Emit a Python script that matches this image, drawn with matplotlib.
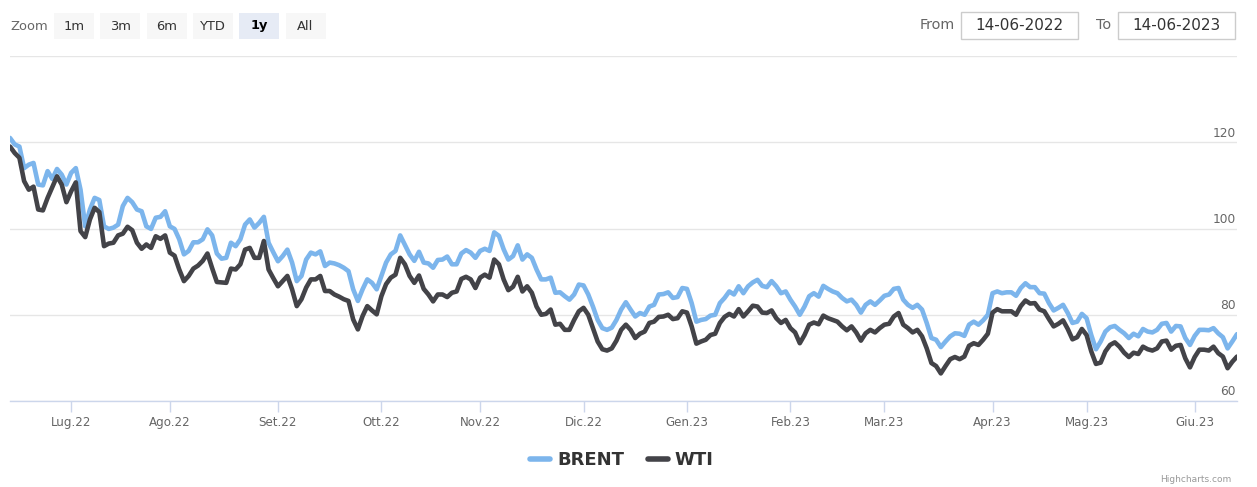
import matplotlib
matplotlib.use("Agg")
import matplotlib.pyplot as plt
from matplotlib.patches import Rectangle
from matplotlib.transforms import blended_transform_factory
import numpy as np
import pandas as pd

plt.rcParams["font.family"] = ["DejaVu Sans"]

W, H = 1257, 487

# data (one value per trading day, 14-06-2022 .. 14-06-2023)
start_date = "2022-06-14"
end_date = "2023-06-14"

brent = [
    121, 119.5, 119, 114, 114.8, 115.2, 110.2, 110, 113.3, 111.5,
    113.8, 112.5, 110.2, 112.9, 114, 109, 100.5, 104.4, 107.1, 106.6,
    100.5, 99.9, 100.2, 100.9, 105.2, 107.1, 106.1, 104.4, 104, 100.5,
    99.9, 102.5, 102.7, 104, 100.5, 99.9, 97.5, 94, 94.8, 96.8,
    96.8, 97.5, 99.8, 98.4, 94.2, 93, 93.2, 96.7, 95.9, 97.5,
    100.9, 102.1, 100.2, 101.3, 102.7, 96.7, 94.5, 92.4, 93.6, 95.1,
    92.1, 87.8, 89, 92.8, 94.4, 94, 94.7, 91.3, 92.1, 91.9,
    91.5, 90.9, 90.1, 85.9, 83.2, 85.9, 88.2, 87.4, 85.9, 89,
    92.1, 94, 94.8, 98.4, 96.2, 94, 92.5, 94.6, 92.1, 91.9,
    90.9, 92.7, 92.8, 93.5, 91.7, 91.7, 94.2, 95, 94.4, 93.2,
    94.8, 95.3, 94.8, 99.1, 98.3, 95.2, 92.8, 93.6, 96.1, 92.8,
    94, 93.2, 90.5, 88.2, 88.2, 88.6, 85.1, 85.2, 84.3, 83.5,
    84.7, 87, 86.8, 84.7, 81.9, 78.8, 76.9, 76.5, 77, 78.8,
    81.2, 82.9, 81.2, 79.6, 80.4, 80, 81.9, 82.3, 84.7, 84.8,
    85.2, 83.9, 84.1, 86.2, 86, 82.7, 78.4, 78.8, 79, 79.8,
    80, 82.7, 83.9, 85.4, 84.7, 86.6, 85, 86.6, 87.5, 88.1,
    86.7, 86.4, 87.8, 86.6, 85, 85.4, 83.5, 81.9, 80, 81.9,
    84.3, 85, 84.2, 86.7, 86, 85.4, 85, 83.9, 83.1, 83.5,
    82.3, 80.5, 82.3, 83.1, 82.3, 83.3, 84.4, 84.7, 86, 86.2,
    83.5, 82.3, 81.6, 82.3, 81.2, 78.1, 74.6, 74.2, 72.5, 73.8,
    75, 75.7, 75.6, 75.1, 77.7, 78.4, 77.7, 78.7, 80, 85,
    85.4, 85, 85.2, 85.2, 84.4, 86.2, 87.3, 86.4, 86.4, 85,
    84.9, 82.7, 81, 81.6, 82.3, 80.4, 78.1, 78.4, 80.2, 79.2,
    75.3, 72, 73.8, 76.1, 77.1, 77.4, 76.5, 75.7, 74.6, 75.6,
    75, 76.7, 76.1, 75.9, 76.5, 77.9, 78.1, 76.1, 77.4, 77.3,
    74.6, 73, 75.1, 76.5, 76.5, 76.4, 76.9, 75.7, 74.8, 72.2,
    73.8, 75.5,
]

wti = [
    119, 117.5, 116.4, 111, 109, 109.7, 104.4, 104.2, 107.1, 109.6,
    112.1, 110.2, 106.1, 108.6, 110.7, 99.4, 98, 102.1, 104.8, 103.8,
    95.9, 96.5, 96.7, 98.4, 98.8, 100.4, 99.6, 96.7, 95.3, 96.3,
    95.5, 98.2, 97.6, 98.4, 94.4, 93.7, 90.5, 87.8, 89, 90.7,
    91.4, 92.5, 94.2, 90.8, 87.6, 87.5, 87.4, 90.7, 90.5, 91.7,
    95.1, 95.5, 93.2, 93.2, 97.1, 90.5, 88.5, 86.6, 87.8, 89,
    85.9, 82, 83.6, 86.3, 88.2, 88.2, 89, 85.5, 85.5, 84.7,
    84.2, 83.6, 83.2, 78.9, 76.6, 79.7, 82, 81, 80.1, 84.3,
    87.1, 88.6, 89.3, 93.2, 91.7, 89, 87.4, 89.1, 86, 84.7,
    83.1, 84.7, 84.7, 84.1, 85.1, 85.4, 88.3, 88.8, 88.2, 86.2,
    88.6, 89.3, 88.6, 92.8, 91.7, 88.2, 85.7, 86.5, 88.8, 85.4,
    86.6, 85.1, 81.9, 80, 80.2, 81.2, 77.7, 77.9, 76.5, 76.5,
    78.8, 80.8, 81.6, 80, 76.9, 73.8, 72, 71.7, 72.2, 74,
    76.5, 77.7, 76.5, 74.6, 75.6, 76.1, 78.1, 78.4, 79.5, 79.6,
    80, 79, 79.2, 80.8, 80.5, 77.3, 73.3, 73.8, 74.2, 75.3,
    75.6, 78.1, 79.5, 80.2, 79.6, 81.3, 79.6, 80.8, 82.1, 81.9,
    80.5, 80.4, 81, 79.2, 78.1, 78.8, 76.9, 75.9, 73.4, 75.3,
    77.7, 78.2, 77.8, 79.8, 79.2, 78.8, 78.4, 77.3, 76.4, 77.3,
    75.9, 74, 75.7, 76.5, 75.9, 76.9, 77.7, 77.9, 79.6, 80.4,
    77.7, 76.9, 75.9, 76.5, 75, 72.2, 68.8, 68.1, 66.4, 68.1,
    69.7, 70.2, 69.7, 70.3, 72.8, 73.4, 73, 74.2, 75.6, 80.5,
    81.3, 80.8, 80.8, 80.8, 80, 82, 83.3, 82.6, 82.7, 81.2,
    80.8, 79, 77.3, 77.9, 78.7, 76.7, 74.3, 74.8, 76.7, 75.3,
    71.5, 68.6, 68.9, 71.5, 73, 73.6, 72.6, 71.2, 70.2, 71.2,
    70.9, 72.6, 72, 71.7, 72.2, 73.8, 74, 71.9, 72.8, 73,
    69.9, 67.8, 70.2, 71.9, 71.9, 71.7, 72.6, 71.1, 70.3, 67.6,
    69.1, 70.3,
]

month_labels = ["Lug.22", "Ago.22", "Set.22", "Ott.22", "Nov.22", "Dic.22",
                "Gen.23", "Feb.23", "Mar.23", "Apr.23", "Mag.23", "Giu.23"]
y_ticks = [60, 80, 100, 120, 140]
y_labels = ["60", "80", "100", "120", ""]
zoom_buttons = ["1m", "3m", "6m", "YTD", "1y", "All"]
selected_button = "1y"
series_names = ["BRENT", "WTI"]

BLUE = "#7cb5ec"
DARK = "#434348"

dates = pd.bdate_range(start_date, end_date)
pos = np.arange(len(dates))

fig = plt.figure(figsize=(W / 100, H / 100), dpi=100)


def fx(x):
    return x / W


def fy(y):
    return 1 - y / H


ax = fig.add_axes([fx(10), fy(401), fx(1227), 345 / H])
ax.plot(pos, brent, color=BLUE, lw=3.3, label=series_names[0], zorder=3,
        solid_joinstyle="round", solid_capstyle="round")
ax.plot(pos, wti, color=DARK, lw=3.3, label=series_names[1], zorder=3,
        solid_joinstyle="round", solid_capstyle="round")

ax.set_xlim(pos[0], pos[-1])
ax.set_ylim(y_ticks[0], y_ticks[-1])
ax.set_yticks(y_ticks)
ax.yaxis.grid(True, color="#e6e6e6", lw=1)
ax.set_axisbelow(True)
ax.tick_params(axis="y", length=0, labelleft=False)
for side in ["top", "left", "right"]:
    ax.spines[side].set_visible(False)
ax.spines["bottom"].set_color("#ccd6eb")
ax.spines["bottom"].set_linewidth(1)

# month ticks at the first trading day of each month (ordinal axis)
periods = dates.to_period("M")
month_pos = [int(np.argmax(periods == p)) for p in periods.unique()[1:]]
ax.set_xticks(month_pos, month_labels)
ax.tick_params(axis="x", length=8, width=1, color="#ccd6eb",
               labelcolor="#666666", labelsize=8.6, pad=2.5)

# y labels sit inside the plot, right aligned above their grid line
tr = blended_transform_factory(ax.transAxes, ax.transData)
for v, lab in zip(y_ticks, y_labels):
    if lab:
        ax.text(0.999, v + 0.6, lab, transform=tr, ha="right", va="bottom",
                color="#666666", fontsize=8.8)

leg = fig.legend(loc="center", bbox_to_anchor=(fx(622), fy(460)), ncol=2,
                 frameon=False, handlelength=1.1, handletextpad=0.4,
                 columnspacing=1.3,
                 prop={"weight": "bold", "size": 13})
for t in leg.get_texts():
    t.set_color("#333333")
for h in leg.legend_handles:
    h.set_linewidth(4)

# range selector buttons
fig.text(fx(10), fy(26), "Zoom", color="#666666", fontsize=9.4,
         ha="left", va="center")
bx = 54
for b in zoom_buttons:
    sel = b == selected_button
    fig.add_artist(Rectangle((fx(bx), fy(39)), fx(40), 26 / H,
                             transform=fig.transFigure, lw=0,
                             facecolor="#e6ebf5" if sel else "#f7f7f7"))
    fig.text(fx(bx + 20), fy(26), b, color="#000000" if sel else "#333333",
             fontsize=9.4, ha="center", va="center",
             weight="bold" if sel else "normal")
    bx += 46.3

# date inputs
fig.text(fx(955), fy(25), "From", color="#666666", fontsize=10.4,
         ha="right", va="center")
fig.text(fx(1111), fy(25), "To", color="#666666", fontsize=10.4,
         ha="right", va="center")
for x0, label in [(961, start_date), (1118, end_date)]:
    fig.add_artist(Rectangle((fx(x0), fy(39)), fx(117), 27 / H,
                             transform=fig.transFigure, lw=1,
                             edgecolor="#cccccc", facecolor="white"))
    d = pd.Timestamp(label).strftime("%d-%m-%Y")
    fig.text(fx(x0 + 58.5), fy(25.5), d, color="#333333", fontsize=11,
             ha="center", va="center")

# credits label near the bottom right corner
fig.text(fx(1160), fy(475), "Highcharts.com", color="#999999", fontsize=6.5,
         ha="left", va="top")

fig.savefig("out.png", dpi=100)
